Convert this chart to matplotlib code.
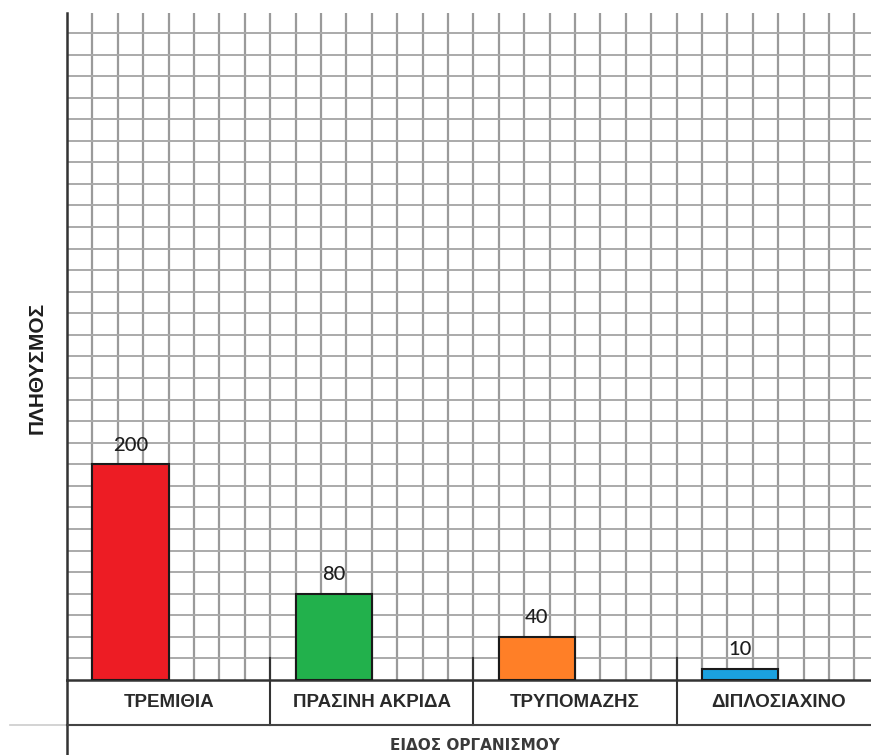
import matplotlib
matplotlib.use("Agg")
import matplotlib.pyplot as plt
import numpy as np

# data
species = ["ΤΡΕΜΙΘΙΑ", "ΠΡΑΣΙΝΗ ΑΚΡΙΔΑ", "ΤΡΥΠΟΜΑΖΗΣ", "ΔΙΠΛΟΣΙΑΧΙΝΟ"]
population = [200, 80, 40, 10]
bar_colors = ["#ED1C24", "#22B14C", "#FF7F27", "#1BA1DF"]
xlabel = "ΕΙΔΟΣ ΟΡΓΑΝΙΣΜΟΥ"
ylabel = "ΠΛΗΘΥΣΜΟΣ"

cols_per_cat = 8      # grid columns in one category cell
ymax = 618.5
ystep = 20

plt.rcParams["font.family"] = ["Liberation Sans", "DejaVu Sans"]

fig = plt.figure(figsize=(8.71, 7.55), dpi=100)
ax = fig.add_axes([67 / 871, 75 / 755, 1 - 67 / 871, (680 - 13) / 755])

xmax = (871 - 67) / 25.4
ax.set_xlim(0, xmax)
ax.set_ylim(0, ymax)

# squared paper grid
for x in np.arange(1, xmax):
    ax.axvline(x, color="#9a9a9a", lw=1.6, zorder=0)
for y in np.arange(ystep, ymax, ystep):
    ax.axhline(y, color="#aaaaaa", lw=1.4, zorder=0)

centers = [i * cols_per_cat + 2.5 for i in range(len(species))]
bars = ax.bar(centers, population, width=3, color=bar_colors,
              edgecolor="#1a1a1a", linewidth=1.5, zorder=3)
for b, v in zip(bars, population):
    ax.text(b.get_x() + b.get_width() / 2, v + 10, str(v), ha="center",
            va="bottom", fontsize=14.5, color="#1e1e1e", family="Lato",
            fontweight="medium")

for s in ["top", "right"]:
    ax.spines[s].set_visible(False)
ax.spines["left"].set_color("#333333")
ax.spines["left"].set_linewidth(1.8)
ax.spines["bottom"].set_color("#333333")
ax.spines["bottom"].set_linewidth(1.8)
ax.set_xticks([])
ax.set_yticks([])

# label row under the baseline
row_bottom = -(725 - 680) / (667 / ymax)
for i in range(1, len(species)):
    ax.plot([i * cols_per_cat] * 2, [row_bottom, ystep], color="#333333",
            lw=1.5, clip_on=False, zorder=4)
for i, name in enumerate(species):
    ax.text((i + 0.5) * cols_per_cat, row_bottom / 2, name, ha="center",
            va="center", fontsize=13.5, fontweight="bold", color="#2a2a2a")

# left border continues down, line under the label row
fig.add_artist(plt.Line2D([67 / 871, 67 / 871], [0, 75 / 755],
                          color="#333333", lw=1.8))
fig.add_artist(plt.Line2D([10 / 871, 67 / 871], [30 / 755, 30 / 755],
                          color="#cccccc", lw=1.2))
fig.add_artist(plt.Line2D([67 / 871, 1], [30 / 755, 30 / 755],
                          color="#444444", lw=1.5))

fig.text(475 / 871, 10 / 755, xlabel, ha="center", va="center",
         fontsize=11, fontweight="bold", color="#3a3a3a",
         family="DejaVu Sans")
fig.text(37 / 871, (755 - 368) / 755, ylabel, ha="center", va="center",
         rotation=90, fontsize=15, fontweight="bold", color="#1e1e1e")

fig.savefig("out.png", dpi=100)
